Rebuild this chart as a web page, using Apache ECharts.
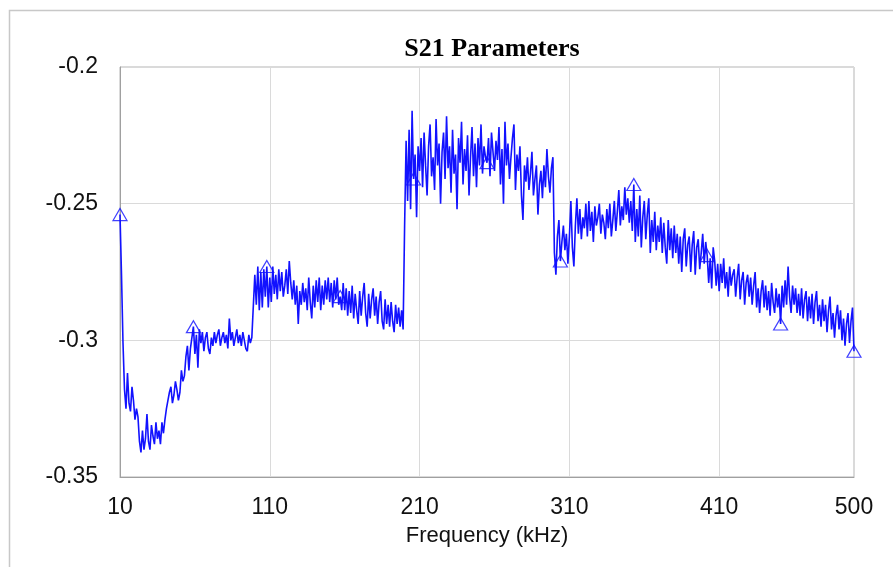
<!DOCTYPE html>
<html>
<head>
<meta charset="utf-8">
<script src="https://cdn.jsdelivr.net/npm/echarts@6/dist/echarts.min.js"></script>
<style>
  html, body { margin: 0; padding: 0; background: #fff; }
  #myChart { width: 893px; height: 567px; }
</style>
</head>
<body>
<div id="myChart"></div>
<script>
// frequency axis: 10 .. 500 kHz, 1 kHz step
const fStart = 10
const fStep = 1
// marker every 49 points (10, 59, 108, ... 500)
const markerEvery = 49

// S21 values, one per kHz
const s21 = [
  -0.254, -0.276, -0.301, -0.318, -0.325, -0.312, -0.323, -0.326, -0.317, -0.322,
  -0.329, -0.325, -0.328, -0.337, -0.341, -0.333, -0.340, -0.336, -0.327, -0.337,
  -0.340, -0.331, -0.335, -0.338, -0.330, -0.336, -0.333, -0.338, -0.330, -0.334,
  -0.329, -0.325, -0.322, -0.319, -0.317, -0.323, -0.320, -0.315, -0.318, -0.322,
  -0.319, -0.311, -0.315, -0.313, -0.306, -0.302, -0.311, -0.303, -0.299, -0.295,
  -0.305, -0.298, -0.310, -0.296, -0.301, -0.297, -0.304, -0.299, -0.297, -0.303,
  -0.305, -0.299, -0.302, -0.297, -0.301, -0.298, -0.296, -0.302, -0.299, -0.297,
  -0.301, -0.298, -0.303, -0.292, -0.300, -0.297, -0.302, -0.299, -0.296, -0.301,
  -0.298, -0.302, -0.297, -0.300, -0.303, -0.304, -0.298, -0.301, -0.299, -0.299,
  -0.276, -0.287, -0.273, -0.289, -0.275, -0.288, -0.274, -0.284, -0.273, -0.288,
  -0.277, -0.286, -0.273, -0.283, -0.276, -0.285, -0.274, -0.282, -0.275, -0.284,
  -0.280, -0.274, -0.283, -0.271, -0.279, -0.285, -0.278, -0.287, -0.280, -0.294,
  -0.282, -0.287, -0.279, -0.286, -0.281, -0.289, -0.277, -0.286, -0.292, -0.280,
  -0.288, -0.278, -0.286, -0.277, -0.289, -0.280, -0.287, -0.278, -0.285, -0.277,
  -0.286, -0.279, -0.288, -0.278, -0.285, -0.277, -0.287, -0.284, -0.289, -0.279,
  -0.289, -0.281, -0.291, -0.282, -0.290, -0.280, -0.292, -0.283, -0.289, -0.294,
  -0.282, -0.291, -0.284, -0.279, -0.290, -0.295, -0.283, -0.292, -0.285, -0.281,
  -0.291, -0.284, -0.294, -0.286, -0.282, -0.293, -0.296, -0.285, -0.294, -0.287,
  -0.295, -0.286, -0.293, -0.297, -0.287, -0.294, -0.288, -0.295, -0.289, -0.296,
  -0.258, -0.227, -0.249, -0.223, -0.252, -0.216, -0.241, -0.232, -0.255, -0.229,
  -0.238, -0.226, -0.244, -0.224, -0.236, -0.247, -0.229, -0.221, -0.240, -0.233,
  -0.245, -0.219, -0.236, -0.228, -0.250, -0.231, -0.224, -0.241, -0.218, -0.237,
  -0.229, -0.246, -0.223, -0.239, -0.232, -0.252, -0.226, -0.235, -0.220, -0.243,
  -0.230, -0.238, -0.225, -0.247, -0.233, -0.222, -0.240, -0.228, -0.244, -0.226,
  -0.236, -0.221, -0.239, -0.229, -0.233, -0.235, -0.226, -0.240, -0.224, -0.231,
  -0.238, -0.227, -0.234, -0.222, -0.243, -0.230, -0.250, -0.220, -0.236, -0.228,
  -0.241, -0.233, -0.226, -0.221, -0.245, -0.232, -0.238, -0.229, -0.247, -0.256,
  -0.236, -0.242, -0.233, -0.245, -0.239, -0.231, -0.247, -0.241, -0.236, -0.254,
  -0.243, -0.238, -0.248, -0.236, -0.244, -0.230, -0.240, -0.246, -0.237, -0.233,
  -0.268, -0.276, -0.262, -0.256, -0.271, -0.264, -0.258, -0.267, -0.261, -0.272,
  -0.262, -0.249, -0.266, -0.273, -0.258, -0.248, -0.261, -0.252, -0.263, -0.255,
  -0.259, -0.250, -0.262, -0.249, -0.260, -0.253, -0.264, -0.251, -0.258, -0.255,
  -0.250, -0.261, -0.254, -0.257, -0.263, -0.252, -0.259, -0.250, -0.262, -0.256,
  -0.249, -0.260, -0.253, -0.245, -0.258, -0.251, -0.256, -0.244, -0.254, -0.248,
  -0.257, -0.249, -0.260, -0.243, -0.264, -0.252, -0.262, -0.247, -0.266, -0.255,
  -0.249, -0.263, -0.254, -0.248, -0.268, -0.256, -0.264, -0.253, -0.267, -0.258,
  -0.264, -0.255, -0.268, -0.257, -0.266, -0.272, -0.256, -0.267, -0.259, -0.270,
  -0.258, -0.268, -0.261, -0.272, -0.262, -0.275, -0.263, -0.259, -0.273, -0.265,
  -0.262, -0.275, -0.265, -0.260, -0.276, -0.266, -0.263, -0.274, -0.268, -0.261,
  -0.272, -0.264, -0.269, -0.279, -0.270, -0.281, -0.266, -0.271, -0.280, -0.272,
  -0.282, -0.272, -0.279, -0.270, -0.281, -0.275, -0.284, -0.273, -0.280, -0.276,
  -0.274, -0.284, -0.277, -0.272, -0.285, -0.278, -0.275, -0.287, -0.279, -0.276,
  -0.284, -0.277, -0.287, -0.280, -0.275, -0.288, -0.281, -0.290, -0.282, -0.278,
  -0.288, -0.280, -0.289, -0.282, -0.291, -0.279, -0.286, -0.290, -0.281, -0.288,
  -0.283, -0.294, -0.280, -0.288, -0.278, -0.287, -0.273, -0.284, -0.290, -0.280,
  -0.287, -0.281, -0.290, -0.283, -0.291, -0.281, -0.292, -0.285, -0.282, -0.293,
  -0.284, -0.292, -0.283, -0.294, -0.286, -0.282, -0.293, -0.287, -0.295, -0.285,
  -0.293, -0.287, -0.297, -0.289, -0.284, -0.296, -0.290, -0.299, -0.291, -0.287,
  -0.296, -0.289, -0.300, -0.292, -0.302, -0.294, -0.290, -0.301, -0.293, -0.288,
  -0.304
]

const xTicks = [10, 110, 210, 310, 410, 500]
const yTicks = [-0.35, -0.3, -0.25, -0.2]

let lineData = s21.map((v, i) => [fStart + i * fStep, v])
let markerData = lineData.filter((p, i) => i % markerEvery === 0)

let myChart = echarts.init(document.getElementById('myChart'))

let labelFont = {
    color: '#111',
    fontSize: 23,
    fontFamily: 'Liberation Sans, Arial, sans-serif'
}

let option = {
    animation: false,
    backgroundColor: '#fff',
    title: {
        text: 'S21 Parameters',
        left: 487,
        textAlign: 'center',
        top: 31,
        textStyle: {
            color: '#000',
            fontSize: 26,
            fontWeight: 'bold',
            fontFamily: 'Liberation Serif, Times New Roman, serif'
        }
    },
    graphic: [
        {
            // outer frame of the picture
            type: 'rect',
            left: 7,
            top: 8,
            shape: { width: 900, height: 600 },
            style: { fill: 'none', stroke: '#c8c8c8', lineWidth: 1.5 },
            silent: true
        }
    ],
    grid: {
        left: 120,
        right: 39,
        top: 67,
        bottom: 90,
        show: true,
        borderColor: '#b4b4b4',
        borderWidth: 1
    },
    xAxis: {
        type: 'value',
        min: xTicks[0],
        max: xTicks[xTicks.length - 1],
        interval: 100,
        name: 'Frequency (kHz)',
        nameLocation: 'middle',
        nameGap: 48,
        nameTextStyle: Object.assign({}, labelFont, { fontSize: 22 }),
        axisLine: { show: true, lineStyle: { color: '#a0a0a0', width: 1 } },
        axisTick: { show: false },
        axisLabel: Object.assign({ margin: 19, showMaxLabel: true }, labelFont),
        splitLine: { show: true, lineStyle: { color: '#dadada', width: 1 } }
    },
    yAxis: {
        type: 'value',
        min: yTicks[0],
        max: yTicks[yTicks.length - 1],
        interval: 0.05,
        axisLine: { show: true, lineStyle: { color: '#a0a0a0', width: 1 } },
        axisTick: { show: false },
        axisLabel: Object.assign({
            margin: 22,
            formatter: v => String(+v.toFixed(2))
        }, labelFont),
        splitLine: { show: true, lineStyle: { color: '#dadada', width: 1 } }
    },
    series: [
        {
            name: 'S21',
            type: 'line',
            data: lineData,
            symbol: 'none',
            lineStyle: { color: '#1212ff', width: 1.6 },
            z: 2
        },
        {
            name: 'S21 markers',
            type: 'scatter',
            data: markerData,
            symbol: 'triangle',
            symbolSize: [14, 12],
            clip: false,
            itemStyle: {
                color: 'rgba(0,0,0,0)',
                borderColor: '#1212ff',
                borderWidth: 1.2
            },
            z: 3
        }
    ]
}
myChart.setOption(option)
</script>
</body>
</html>
